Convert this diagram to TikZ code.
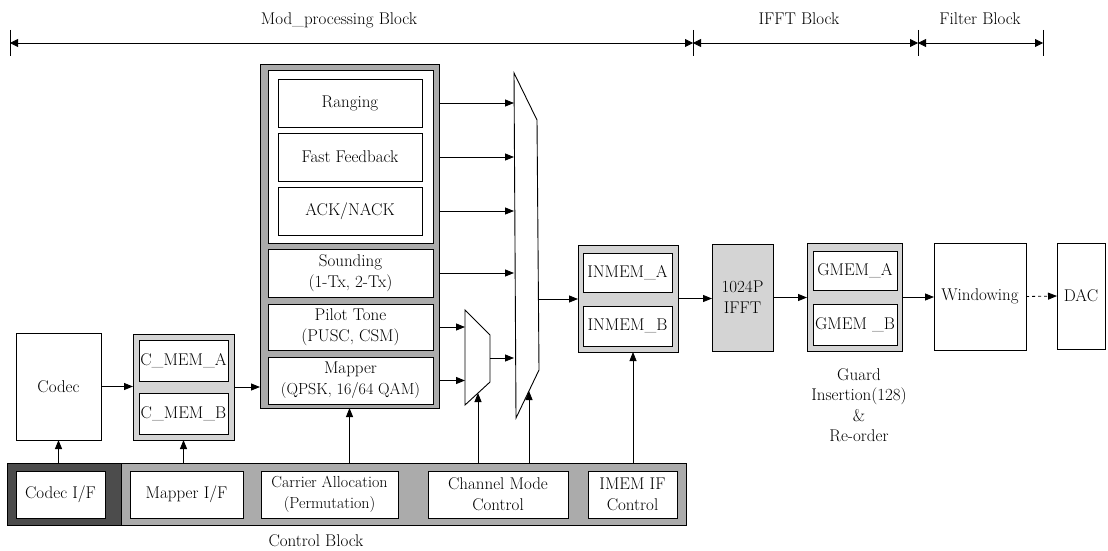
\documentclass[tikz,border=0pt]{standalone}
\usetikzlibrary{arrows.meta,calc}
\tikzset{
  txt/.style={font=\fontsize{17}{21}\selectfont, align=center, text=black},
  base/.style={txt, draw=black, line width=0.9pt, inner sep=0pt, outer sep=0pt},
  box/.style={base, fill=white},
  lightbox/.style={base, fill=black!17},
  frame/.style={base, fill=black!33},
  darkframe/.style={base, fill=black!70},
  arr/.style={-{Triangle[length=9pt,width=7pt]}, line width=0.8pt},
  dim/.style={{Triangle[length=8pt,width=8pt]}-{Triangle[length=8pt,width=8pt]}, line width=0.8pt},
  tick/.style={line width=0.8pt},
  mux/.style={draw=black, line width=0.9pt, fill=white}
}
\newcommand\bx[7]{\node[#6,anchor=north west,minimum width={(#4-#2)*1pt},minimum height={(#5-#3)*1pt}] (#1) at (#2,#3) {#7};}
\newcommand\smalltxt{\fontsize{16}{21}\selectfont}
\begin{document}
\begin{tikzpicture}[x=1pt,y=-1pt]
\useasboundingbox (0,0) rectangle (1108,551);

% top dimension lines
\coordinate (t0) at (10,43);
\coordinate (t1) at (693,43);
\coordinate (t2) at (918,43);
\coordinate (t3) at (1043,43);
\foreach \t in {t0,t1,t2,t3} \draw[tick] (\t) ++(0,-13) -- ++(0,26);
\draw[dim] (t0) -- (t1);
\draw[dim] (t1) -- (t2);
\draw[dim] (t2) -- (t3);
\node[txt] (lmod) at (339,20) {Mod\_processing Block};
\node[txt] (lifft) at (799,19) {IFFT Block};
\node[txt] (lfilt) at (980,19) {Filter Block};

% codec and C_MEM
\bx{codec}{16}{333}{101}{440}{box}{Codec}
\bx{cmemo}{133}{334}{234}{440}{lightbox}{}
\bx{cmema}{139}{340}{228}{381}{box}{C\_MEM\_A}
\bx{cmemb}{139}{393}{228}{434}{box}{C\_MEM\_B}

% modulation block
\bx{modo}{260}{64}{439}{408}{frame}{}
\bx{grp}{268}{70}{433}{243}{box}{}
\bx{rang}{278}{79}{422}{127}{box}{Ranging}
\bx{ff}{278}{133}{422}{181}{box}{Fast Feedback}
\bx{ack}{278}{187}{422}{235}{box}{ACK/NACK}
\bx{snd}{268}{249}{433}{297}{box}{Sounding\\(1-Tx, 2-Tx)}
\bx{pil}{268}{304}{433}{350}{box}{Pilot Tone\\(PUSC, CSM)}
\bx{map}{268}{357}{433}{404}{box}{Mapper\\{\smalltxt(QPSK, 16/64 QAM)}}

% multiplexers
\draw[mux] (465,310) -- (490,335) -- (490,382) -- (465,405) -- cycle;
\draw[mux] (514,73) -- (537,120) -- (539,370) -- (516,418) -- cycle;
\coordinate (smL) at (465,0);
\coordinate (bmL) at (514,0);
\coordinate (smO) at (490,358);
\coordinate (bmO) at (539,299);
\coordinate (smS) at (478,393);
\coordinate (bmS) at (529,391);

% memories and IFFT
\bx{inmemo}{578}{245}{678}{352}{lightbox}{}
\bx{inmema}{583}{253}{672}{292}{box}{INMEM\_A}
\bx{inmemb}{583}{306}{672}{346}{box}{INMEM\_B}
\bx{ifft}{712}{244}{773}{351}{lightbox}{1024P\\IFFT}
\bx{gmemo}{807}{243}{902}{351}{lightbox}{}
\bx{gmema}{813}{251}{897}{290}{box}{GMEM\_A}
\bx{gmemb}{813}{304}{897}{345}{box}{GMEM \_B}
\bx{win}{934}{243}{1026}{350}{box}{Windowing}
\bx{dac}{1057}{243}{1105}{349}{box}{DAC}
\node[txt, font=\fontsize{17}{20.5}\selectfont] (guard) at (859,405) {Guard\\Insertion(128)\\\&\\Re-order};

% control block
\bx{ctrl}{7}{463}{686}{525}{frame}{}
\bx{cifo}{7}{463}{121}{525}{darkframe}{}
\bx{cif}{16}{471}{105}{518}{box}{Codec I/F}
\bx{mif}{130}{471}{243}{518}{box}{Mapper I/F}
\bx{caf}{261}{471}{398}{518}{box}{\smalltxt Carrier Allocation\\\smalltxt (Permutation)}
\bx{cmc}{428}{471}{568}{518}{box}{Channel Mode\\Control}
\bx{imf}{588}{471}{677}{518}{box}{IMEM IF\\Control}
\node[txt] (lctrl) at (316,541) {Control Block};

% data path
\draw[arr] (codec.east) -- (codec.east -| cmemo.west);
\draw[arr] (cmemo.east) -- (cmemo.east -| modo.west);
\foreach \b in {rang,ff,ack,snd} \draw[arr] (\b.east -| modo.east) -- (\b.east -| bmL);
\foreach \b in {pil,map} \draw[arr] (\b.east -| modo.east) -- (\b.east -| smL);
\draw[arr] (smO) -- (smO -| bmL);
\draw[arr] (bmO) -- (bmO -| inmemo.west);
\draw[arr] (inmemo.east) -- (inmemo.east -| ifft.west);
\draw[arr] (ifft.east) -- (ifft.east -| gmemo.west);
\draw[arr] (gmemo.east) -- (gmemo.east -| win.west);
\draw[arr, dashed] (win.east) -- (dac.west);

% control lines
\draw[arr] (codec.south |- ctrl.north) -- (codec.south);
\draw[arr] (cmemo.south |- ctrl.north) -- (cmemo.south);
\draw[arr] (modo.south |- ctrl.north) -- (modo.south);
\draw[arr] (smS |- ctrl.north) -- (smS);
\draw[arr] (bmS |- ctrl.north) -- (bmS);
\draw[arr] ([xshift=5pt]inmemo.south |- ctrl.north) -- ([xshift=5pt]inmemo.south);
\end{tikzpicture}
\end{document}
